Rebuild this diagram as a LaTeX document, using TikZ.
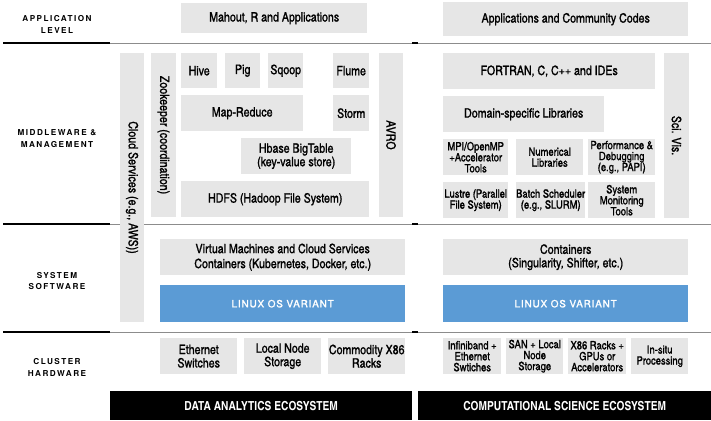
\documentclass[tikz,border=0pt]{standalone}
\usepackage{fontspec}
\setmainfont{texgyreheroscn}[Extension=.otf, UprightFont=*-regular, BoldFont=*-bold, UprightFeatures={FakeBold=1.2}]
\newfontfamily\layerfont{TeX Gyre Heros}[LetterSpace=18]
\newfontfamily\osfont{TeX Gyre Heros}[LetterSpace=8, FakeBold=1.6]

\definecolor{boxgray}{HTML}{E6E6E6}
\definecolor{osblue}{HTML}{5B9BD5}
\definecolor{rulegray}{HTML}{8C8C8C}

\newcommand\bigtxt{\fontsize{13}{13.5}\selectfont}
\newcommand\smalltxt{\fontsize{11.5}{11}\selectfont}

\begin{document}
\begin{tikzpicture}[x=1bp, y=-1bp,
    box/.style={fill=boxgray, inner sep=0pt, anchor=north west, align=center, font=\bigtxt},
    smallbox/.style={box, font=\smalltxt},
    vbar/.style={fill=boxgray, inner sep=0pt, anchor=center, rotate=-90, font=\bigtxt},
    osbox/.style={box, fill=osblue, text=white, font={\fontsize{10}{12}\osfont}},
    ecobar/.style={fill=black, text=white, inner sep=0pt, anchor=north west, font={\fontsize{12.5}{13}\bfseries}},
    layer/.style={align=center, font={\fontsize{8.2}{12}\layerfont\bfseries}},
    wh/.style 2 args={minimum width=#1bp, minimum height=#2bp},
    thinrule/.style={rulegray, line width=1bp},
    thickrule/.style={black, line width=2.5bp}]
  \fill[white] (0,0) rectangle (711,420);
  \useasboundingbox (0,0) rectangle (711,420);

  % layer rules
  \foreach \y in {43,224,332}{
    \draw[thinrule] (3,\y) -- (711,\y);
    \draw[thickrule] (3,\y) -- (110,\y);
    \draw[thickrule] (412,\y) -- (418,\y);
  }

  % layer names
  \node[layer] (applbl) at (57,24) {APPLICATION\\LEVEL};
  \node[layer] (midlbl) at (57,139) {MIDDLEWARE \&\\MANAGEMENT};
  \node[layer] (syslbl) at (57,281) {SYSTEM\\SOFTWARE};
  \node[layer] (clulbl) at (57,367) {CLUSTER\\HARDWARE};

  % application level
  \node[box, wh={186}{30}] (mahout) at (181,3) {Mahout, R and Applications};
  \node[box, wh={245}{34}] (appcodes) at (443,2) {Applications and Community Codes};

  % middleware, data analytics
  \node[vbar, wh={269}{24}] (cloud) at (132,187.5) {Cloud Services (e.g., AWS))};
  \node[vbar, wh={164}{25}] (zoo) at (163.5,135) {Zookeeper (coordination)};
  \node[box, wh={36}{35}] (hive) at (181,53) {Hive};
  \node[box, wh={35}{35}] (pig) at (225,53) {Pig};
  \node[box, wh={35}{35}] (sqoop) at (268,53) {Sqoop};
  \node[box, wh={36}{35}] (flume) at (333,53) {Flume};
  \node[box, wh={122}{36}] (mapred) at (181,95) {Map-Reduce};
  \node[box, wh={36}{36}] (storm) at (333,95) {Storm};
  \node[box, wh={110}{36}] (hbase) at (241,138) {Hbase BigTable\\(key-value store)};
  \node[box, wh={188}{36}] (hdfs) at (181,181) {HDFS (Hadoop File System)};
  \node[vbar, wh={164}{24}] (avro) at (391,135) {AVRO};

  % middleware, computational science
  \node[box, wh={212}{36}] (fortran) at (443,53) {FORTRAN, C, C++ and IDEs};
  \node[box, wh={161}{36}] (domlib) at (443,96) {Domain-specific Libraries};
  \node[smallbox, wh={65}{36}] (mpi) at (443,139) {MPI/OpenMP\\+Accelerator\\Tools};
  \node[smallbox, wh={67}{36}] (numlib) at (516,139) {Numerical\\Libraries};
  \node[smallbox, wh={67}{36}] (perf) at (588,139) {Performance \&\\Debugging\\(e.g., PAPI)};
  \node[smallbox, wh={65}{36}] (lustre) at (443,182) {Lustre (Parallel\\File System)};
  \node[smallbox, wh={67}{36}] (batch) at (516,182) {Batch Scheduler\\(e.g., SLURM)};
  \node[smallbox, wh={67}{36}] (sysmon) at (588,182) {System\\Monitoring\\Tools};
  \node[vbar, wh={165}{25}] (scivis) at (676.5,135.5) {Sci. Vis.};

  % system software
  \node[box, wh={245}{36}, font={\fontsize{13}{15}\selectfont}] (vm) at (160,239) {Virtual Machines and Cloud Services\\Containers (Kubernetes, Docker, etc.)};
  \node[box, wh={245}{36}] (contain) at (443,239) {Containers\\(Singularity, Shifter, etc.)};
  \node[osbox, wh={245}{37}] (osleft) at (160,285) {LINUX OS VARIANT};
  \node[osbox, wh={245}{37}] (osright) at (443,285) {LINUX OS VARIANT};

  % cluster hardware
  \node[box, wh={77}{36}] (eth) at (160,338) {Ethernet\\Switches};
  \node[box, wh={77}{36}] (localst) at (244,338) {Local Node\\Storage};
  \node[box, wh={77}{36}] (commod) at (328,338) {Commodity X86\\Racks};
  \node[smallbox, wh={58}{36}] (infini) at (443,338) {Infiniband +\\Ethernet\\Swtiches};
  \node[smallbox, wh={57}{36}] (san) at (506,338) {SAN + Local\\Node\\Storage};
  \node[smallbox, wh={58}{36}] (xracks) at (568,338) {X86 Racks +\\GPUs or\\Accelerators};
  \node[smallbox, wh={57}{36}] (insitu) at (631,338) {In-situ\\Processing};

  % ecosystems
  \node[ecobar, wh={302}{29}] (daeco) at (110,391) {DATA ANALYTICS ECOSYSTEM};
  \node[ecobar, wh={293}{29}] (cseco) at (418,391) {COMPUTATIONAL SCIENCE ECOSYSTEM};
\end{tikzpicture}
\end{document}
